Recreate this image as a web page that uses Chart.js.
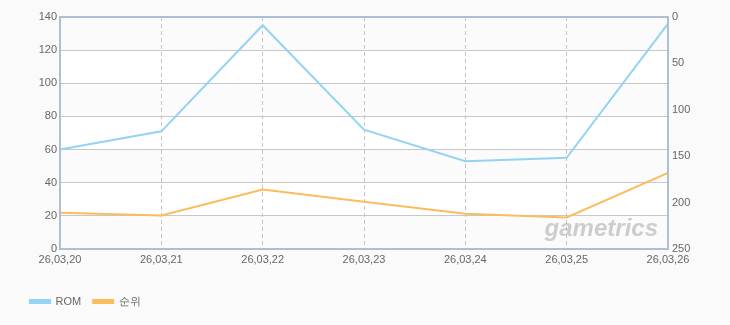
<!DOCTYPE html>
<html>
<head>
<meta charset="utf-8">
<script src="https://cdn.jsdelivr.net/npm/chart.js@4.4.1/dist/chart.umd.min.js"></script>
<style>
  html, body { margin: 0; padding: 0; background: #fafafa; }
  #wrap { width: 730px; height: 325px; }
</style>
</head>
<body>
<div id="wrap"><canvas id="chart" width="730" height="325"></canvas></div>
<script>
const labels = ['26,03,20', '26,03,21', '26,03,22', '26,03,23', '26,03,24', '26,03,25', '26,03,26'];
const romValues = [60, 71, 135, 72, 53, 55, 136];
const rankValues = [211, 214, 186, 199, 212, 216, 168];
const leftTicks = [0, 20, 40, 60, 80, 100, 120, 140];
const rightTicks = [0, 50, 100, 150, 200, 250];

const tickFont = { family: 'Liberation Sans, Arial, sans-serif', size: 11 };
const frameColor = '#adc0d3';

// page colour and alternating bands, drawn before the grid
const bgPlugin = {
  id: 'bg',
  beforeDraw(chart) {
    const { ctx, chartArea: a, scales } = chart;
    ctx.save();
    ctx.fillStyle = '#fafafa';
    ctx.fillRect(0, 0, chart.width, chart.height);
    ctx.fillStyle = '#fbfbfb';
    ctx.fillRect(a.left, a.top, a.right - a.left, a.bottom - a.top);
    const y = scales.y;
    for (let i = 0; i < leftTicks.length - 1; i++) {
      if (i % 2 === 1) {
        const top = y.getPixelForValue(leftTicks[i + 1]);
        const bot = y.getPixelForValue(leftTicks[i]);
        ctx.fillStyle = '#ffffff';
        ctx.fillRect(a.left, top, a.right - a.left, bot - top);
      }
    }
    ctx.restore();
  }
};

// watermark and the blue frame round the plot
const framePlugin = {
  id: 'frame',
  beforeDatasetsDraw(chart) {
    const { ctx, chartArea: a } = chart;
    ctx.save();
    ctx.font = 'italic bold 24px "Liberation Sans", sans-serif';
    ctx.fillStyle = 'rgba(175,175,175,0.6)';
    ctx.textAlign = 'right';
    ctx.textBaseline = 'alphabetic';
    ctx.fillText('gametrics', a.right - 10, a.bottom - 13);
    ctx.restore();
  },
  afterDatasetsDraw(chart) {
    const { ctx, chartArea: a } = chart;
    ctx.save();
    ctx.strokeStyle = frameColor;
    ctx.lineWidth = 2;
    ctx.strokeRect(a.left, a.top, a.right - a.left, a.bottom - a.top);
    ctx.restore();
  }
};

new Chart(document.getElementById('chart').getContext('2d'), {
  type: 'line',
  data: {
    labels: labels,
    datasets: [{
      label: 'ROM',
      data: romValues,
      yAxisID: 'y',
      borderColor: '#93d3f3',
      backgroundColor: '#93d3f3',
      borderWidth: 2,
      pointRadius: 0,
      tension: 0
    }, {
      label: '순위',
      data: rankValues,
      yAxisID: 'y1',
      borderColor: '#fbbd5c',
      backgroundColor: '#fbbd5c',
      borderWidth: 2,
      pointRadius: 0,
      tension: 0
    }]
  },
  options: {
    responsive: false,
    animation: false,
    layout: { padding: { left: 18, right: 0, top: 17, bottom: 8 } },
    plugins: {
      tooltip: { enabled: false },
      legend: {
        position: 'bottom',
        align: 'start',
        labels: {
          boxWidth: 20,
          boxHeight: 3,
          padding: 12,
          color: '#666',
          font: tickFont
        }
      }
    },
    scales: {
      x: {
        offset: false,
        grid: {
          color: (c) => (c.index === 0 || c.index === labels.length - 1) ? 'rgba(0,0,0,0)' : '#c4c4c4',
          drawTicks: false
        },
        border: { display: false, dash: [4, 3] },
        ticks: { color: '#666', font: tickFont, padding: 4, maxRotation: 0, autoSkip: false },
        afterFit(scale) { scale.height = 35; }
      },
      y: {
        position: 'left',
        min: 0,
        max: 140,
        afterBuildTicks(scale) { scale.ticks = leftTicks.map(v => ({ value: v })); },
        grid: { color: '#c8c8c8', drawTicks: false },
        border: { display: false },
        ticks: { color: '#666', font: tickFont, padding: 3 },
        afterFit(scale) { scale.width = 42; }
      },
      y1: {
        position: 'right',
        reverse: true,
        min: 0,
        max: 250,
        afterBuildTicks(scale) { scale.ticks = rightTicks.map(v => ({ value: v })); },
        grid: { display: false, drawTicks: false },
        border: { display: false },
        ticks: { color: '#666', font: tickFont, padding: 4 },
        afterFit(scale) { scale.width = 62; }
      }
    }
  },
  plugins: [bgPlugin, framePlugin]
});
</script>
</body>
</html>
